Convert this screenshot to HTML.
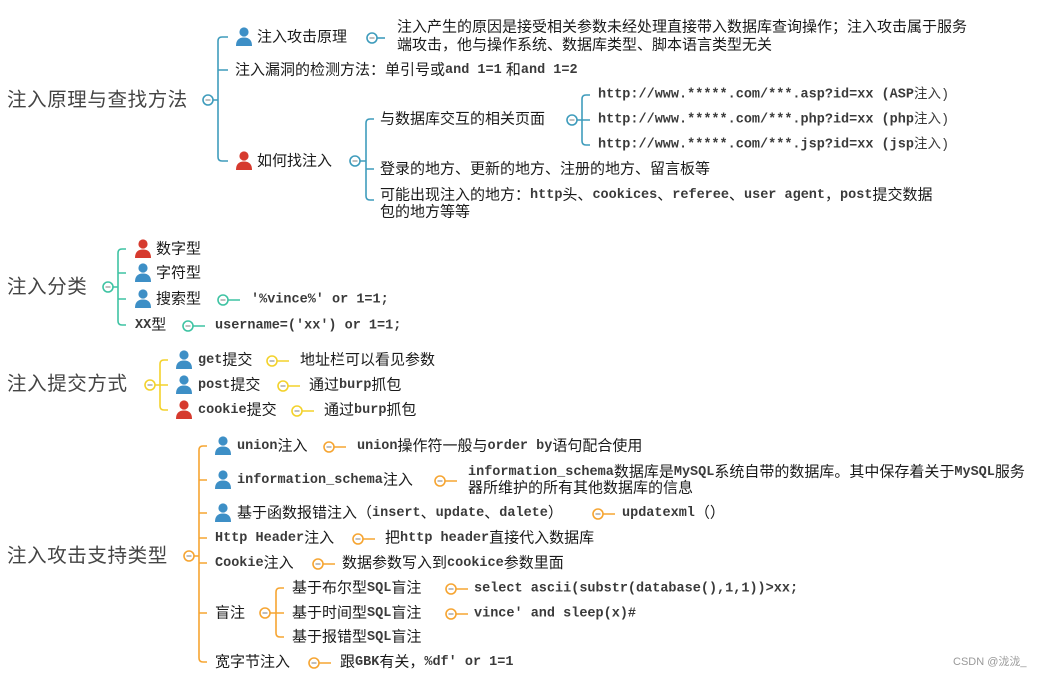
<!DOCTYPE html>
<html><head><meta charset="utf-8"><style>
html,body{margin:0;padding:0;background:#fff;}
svg{display:block}
text{font-family:"Liberation Sans","Noto Sans CJK SC",sans-serif;font-size:15px;fill:#1a1a1a;dominant-baseline:central}
.r{font-size:19.5px;fill:#444;letter-spacing:0.6px}
.m{font-family:"Liberation Mono","Noto Sans CJK SC",monospace;font-size:13.5px;font-weight:bold;fill:#3a3a3a}
.d{stroke:#999;stroke-width:1.2}
</style></head><body>
<svg width="1049" height="678" viewBox="0 0 1049 678" xmlns="http://www.w3.org/2000/svg">
<defs>
<symbol id="pb" viewBox="0 0 16 19"><circle cx="8" cy="5" r="4.6" fill="#3d8fc6"/><path d="M0,19 Q0,10.5 8,10.5 Q16,10.5 16,19Z" fill="#3d8fc6"/></symbol>
<symbol id="pr" viewBox="0 0 16 19"><circle cx="8" cy="5" r="4.6" fill="#d63a2e"/><path d="M0,19 Q0,10.5 8,10.5 Q16,10.5 16,19Z" fill="#d63a2e"/></symbol>
</defs>

<!-- ============ Section 1 (teal) ============ -->
<g stroke="#3f9cbc" stroke-width="1.6" fill="none">
<path d="M213,100 H218 M228,37 H222 Q218,37 218,41 V157 Q218,161 222,161 H228 M218,70 H228"/>
<path d="M377,38 H385"/>
<path d="M360,161 H366 M374,119 H370 Q366,119 366,123 V196 Q366,200 370,200 H374 M366,169 H374"/>
<path d="M577,120 H582 M590,95 H586 Q582,95 582,99 V141 Q582,145 586,145 H590 M582,120 H590"/>
<circle cx="208" cy="100" r="5" fill="#fff"/><circle cx="372" cy="38" r="5" fill="#fff"/>
<circle cx="355" cy="161" r="5" fill="#fff"/><circle cx="572" cy="120" r="5" fill="#fff"/>
</g>
<g class="d"><path d="M205.5,100 H210.5 M369.5,38 H374.5 M352.5,161 H357.5 M569.5,120 H574.5"/></g>
<text class="r" x="7" y="100">注入原理与查找方法</text>
<use href="#pb" x="236" y="27" width="16" height="19"/>
<text x="257" y="37">注入攻击原理</text>
<text x="397" y="27">注入产生的原因是接受相关参数未经处理直接带入数据库查询操作；注入攻击属于服务</text>
<text x="397" y="45">端攻击，他与操作系统、数据库类型、脚本语言类型无关</text>
<text x="235" y="70">注入漏洞的检测方法：单引号或<tspan class="m">and 1=1</tspan> 和<tspan class="m">and 1=2</tspan></text>
<use href="#pr" x="236" y="151" width="16" height="19"/>
<text x="257" y="161">如何找注入</text>
<text x="380" y="119">与数据库交互的相关页面</text>
<text class="m" x="598" y="95">http://www.*****.com/***.asp?id=xx (ASP<tspan style="font-weight:normal">注入)</tspan></text>
<text class="m" x="598" y="120">http://www.*****.com/***.php?id=xx (php<tspan style="font-weight:normal">注入)</tspan></text>
<text class="m" x="598" y="145">http://www.*****.com/***.jsp?id=xx (jsp<tspan style="font-weight:normal">注入)</tspan></text>
<text x="380" y="169">登录的地方、更新的地方、注册的地方、留言板等</text>
<text x="380" y="195">可能出现注入的地方：<tspan class="m">http</tspan>头、<tspan class="m">cookices</tspan>、<tspan class="m">referee</tspan>、<tspan class="m">user agent</tspan>，<tspan class="m">post</tspan>提交数据</text>
<text x="380" y="212">包的地方等等</text>

<!-- ============ Section 2 (green) ============ -->
<g stroke="#3fc3a3" stroke-width="1.6" fill="none">
<path d="M113,287 H118 M126,249 H122 Q118,249 118,253 V321 Q118,325 122,325 H126 M118,273 H126 M118,299 H126"/>
<path d="M228,300 H240 M193,326 H205"/>
<circle cx="108" cy="287" r="5" fill="#fff"/><circle cx="223" cy="300" r="5" fill="#fff"/><circle cx="188" cy="326" r="5" fill="#fff"/>
</g>
<g class="d"><path d="M105.5,287 H110.5 M220.5,300 H225.5 M185.5,326 H190.5"/></g>
<text class="r" x="7" y="287">注入分类</text>
<use href="#pr" x="135" y="239" width="16" height="19"/><text x="156" y="249">数字型</text>
<use href="#pb" x="135" y="263" width="16" height="19"/><text x="156" y="273">字符型</text>
<use href="#pb" x="135" y="289" width="16" height="19"/><text x="156" y="299">搜索型</text>
<text class="m" x="251" y="300">'%vince%' or 1=1;</text>
<text x="135" y="325"><tspan class="m">XX</tspan>型</text>
<text class="m" x="215" y="326">username=('xx') or 1=1;</text>

<!-- ============ Section 3 (yellow) ============ -->
<g stroke="#f3d22c" stroke-width="1.6" fill="none">
<path d="M155,385 H160 M168,360 H164 Q160,360 160,364 V406 Q160,410 164,410 H168 M160,385 H168"/>
<path d="M277,361 H289 M288,386 H300 M302,411 H314"/>
<circle cx="150" cy="385" r="5" fill="#fff"/><circle cx="272" cy="361" r="5" fill="#fff"/><circle cx="283" cy="386" r="5" fill="#fff"/><circle cx="297" cy="411" r="5" fill="#fff"/>
</g>
<g class="d"><path d="M147.5,385 H152.5 M269.5,361 H274.5 M280.5,386 H285.5 M294.5,411 H299.5"/></g>
<text class="r" x="7" y="384">注入提交方式</text>
<use href="#pb" x="176" y="350" width="16" height="19"/><text x="198" y="360"><tspan class="m">get</tspan>提交</text>
<text x="300" y="360">地址栏可以看见参数</text>
<use href="#pb" x="176" y="375" width="16" height="19"/><text x="198" y="385"><tspan class="m">post</tspan>提交</text>
<text x="309" y="385">通过<tspan class="m">burp</tspan>抓包</text>
<use href="#pr" x="176" y="400" width="16" height="19"/><text x="198" y="410"><tspan class="m">cookie</tspan>提交</text>
<text x="324" y="410">通过<tspan class="m">burp</tspan>抓包</text>

<!-- ============ Section 4 (orange) ============ -->
<g stroke="#f6a532" stroke-width="1.6" fill="none">
<path d="M194,556 H199 M207,446 H203 Q199,446 199,450 V658 Q199,662 203,662 H207 M199,480 H207 M199,513 H207 M199,538 H207 M199,563 H207 M199,613 H207"/>
<path d="M334,447 H346 M445,481 H457 M603,514 H615 M363,539 H375 M323,564 H335 M319,663 H331"/>
<path d="M270,613 H276 M284,588 H280 Q276,588 276,592 V633 Q276,637 280,637 H284 M276,613 H284"/>
<path d="M456,589 H468 M456,614 H468"/>
<circle cx="189" cy="556" r="5" fill="#fff"/><circle cx="329" cy="447" r="5" fill="#fff"/><circle cx="440" cy="481" r="5" fill="#fff"/>
<circle cx="598" cy="514" r="5" fill="#fff"/><circle cx="358" cy="539" r="5" fill="#fff"/><circle cx="318" cy="564" r="5" fill="#fff"/>
<circle cx="265" cy="613" r="5" fill="#fff"/><circle cx="451" cy="589" r="5" fill="#fff"/><circle cx="451" cy="614" r="5" fill="#fff"/><circle cx="314" cy="663" r="5" fill="#fff"/>
</g>
<g class="d"><path d="M186.5,556 H191.5 M326.5,447 H331.5 M437.5,481 H442.5 M595.5,514 H600.5 M355.5,539 H360.5 M315.5,564 H320.5 M262.5,613 H267.5 M448.5,589 H453.5 M448.5,614 H453.5 M311.5,663 H316.5"/></g>
<text class="r" x="7" y="556">注入攻击支持类型</text>
<use href="#pb" x="215" y="436" width="16" height="19"/><text x="237" y="446"><tspan class="m">union</tspan>注入</text>
<text x="357" y="446"><tspan class="m">union</tspan>操作符一般与<tspan class="m">order by</tspan>语句配合使用</text>
<use href="#pb" x="215" y="470" width="16" height="19"/><text x="237" y="480"><tspan class="m">information_schema</tspan>注入</text>
<text x="468" y="472"><tspan class="m">information_schema</tspan>数据库是<tspan class="m">MySQL</tspan>系统自带的数据库。其中保存着关于<tspan class="m">MySQL</tspan>服务</text>
<text x="468" y="488">器所维护的所有其他数据库的信息</text>
<use href="#pb" x="215" y="503" width="16" height="19"/><text x="237" y="513">基于函数报错注入（<tspan class="m">insert</tspan>、<tspan class="m">update</tspan>、<tspan class="m">dalete</tspan>）</text>
<text x="622" y="513"><tspan class="m">updatexml</tspan>（）</text>
<text x="215" y="538"><tspan class="m">Http Header</tspan>注入</text>
<text x="385" y="538">把<tspan class="m">http header</tspan>直接代入数据库</text>
<text x="215" y="563"><tspan class="m">Cookie</tspan>注入</text>
<text x="342" y="563">数据参数写入到<tspan class="m">cookice</tspan>参数里面</text>
<text x="215" y="613">盲注</text>
<text x="292" y="588">基于布尔型<tspan class="m">SQL</tspan>盲注</text>
<text class="m" x="474" y="589">select ascii(substr(database(),1,1))&gt;xx;</text>
<text x="292" y="613">基于时间型<tspan class="m">SQL</tspan>盲注</text>
<text class="m" x="474" y="614">vince' and sleep(x)#</text>
<text x="292" y="637">基于报错型<tspan class="m">SQL</tspan>盲注</text>
<text x="215" y="662">宽字节注入</text>
<text x="340" y="662">跟<tspan class="m">GBK</tspan>有关，<tspan class="m">%df' or 1=1</tspan></text>

<text x="953" y="662" style="font-size:11px;fill:#999">CSDN @泷泷_</text>
</svg>
</body></html>
